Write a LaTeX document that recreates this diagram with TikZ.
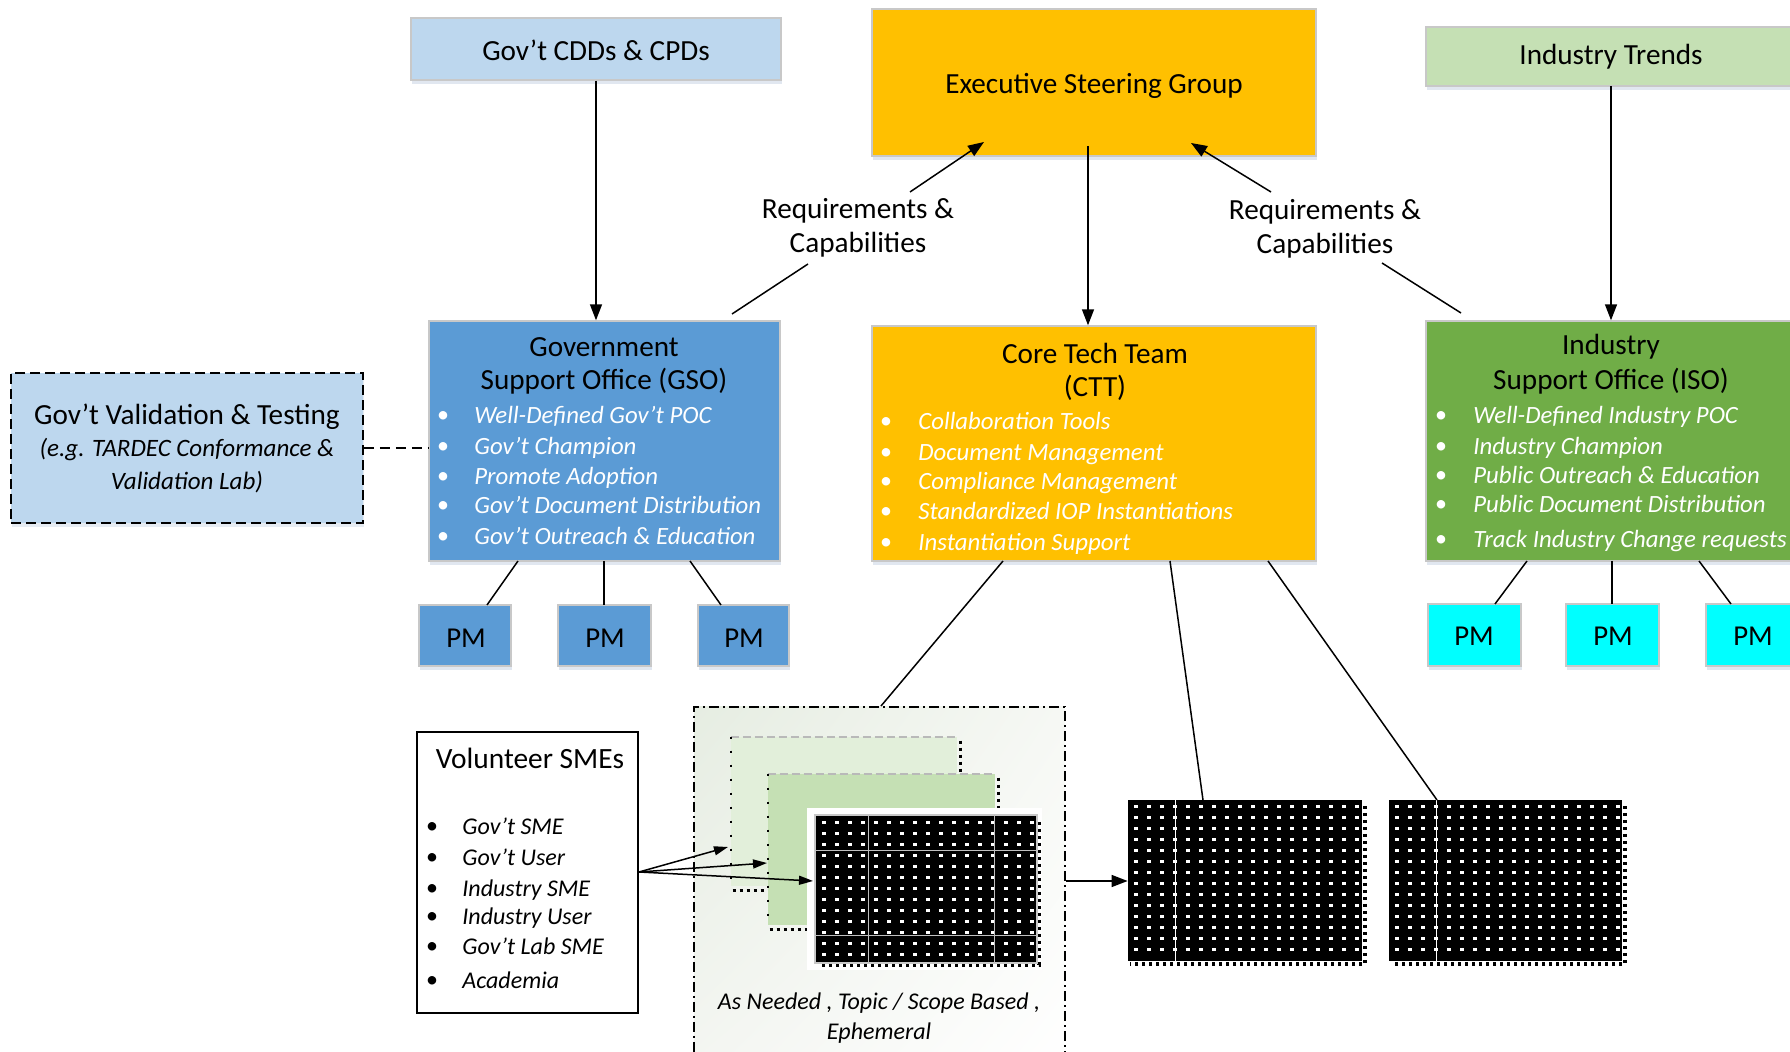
\documentclass[tikz,border=0pt]{standalone}
\usepackage{fontspec}
\setmainfont{Carlito}
\usetikzlibrary{arrows.meta,fit,calc,shadings,shadows}
\definecolor{lblue}{HTML}{BDD7EE}
\definecolor{mblue}{HTML}{5B9BD5}
\definecolor{gold}{HTML}{FFC000}
\definecolor{lgreen}{HTML}{C5E0B4}
\definecolor{mgreen}{HTML}{70AD47}
\definecolor{pgreen}{HTML}{E2EFDA}
\definecolor{cyanpm}{HTML}{00FFFF}
\definecolor{edgegray}{HTML}{C8C8C8}
\definecolor{shadowc}{RGB}{200,212,228}
\definecolor{shA}{RGB}{230,237,226}
\definecolor{shB}{RGB}{246,248,244}
\definecolor{shC}{RGB}{244,246,242}
\newcommand{\dith}[4]{%
  \fill[black] (#1,#2) rectangle (#3,#4);
  \pgfmathtruncatemacro{\nc}{(#3-#1-10)/13}%
  \pgfmathtruncatemacro{\nr}{(#4-#2-10)/11}%
  \foreach \i in {0,...,\nc}{\foreach \j in {0,...,\nr}{
     \fill[white] ({#1+6+13*\i},{#2+5+11*\j}) rectangle ++(3.5,3.5);}}
  \draw[black, line width=1.6pt, dash pattern=on 1.5pt off 2pt] ({#3+3},{#2+6}) -- ({#3+3},{#4+3}) -- ({#1+2},{#4+3});
}
\begin{document}
\begin{tikzpicture}[x=0.5pt,y=-0.5pt,
  box/.style={draw=edgegray, line width=0.7pt, inner sep=0pt,
     drop shadow={shadow xshift=0.6pt, shadow yshift=-2.2pt, fill=shadowc, opacity=0.55}},
  ttl/.style={font=\fontsize{14.6}{17}\selectfont, inner sep=0pt, anchor=center, align=center},
  itm/.style={font=\fontsize{12.4}{14}\selectfont\itshape, inner sep=0pt, anchor=west, text height=13pt, text depth=2.4pt},
  vitm/.style={font=\fontsize{12}{14}\selectfont\itshape, inner sep=0pt, anchor=west, text height=13pt, text depth=2.4pt},
  bul/.style={font=\fontsize{12}{14}\selectfont, inner sep=0pt, anchor=center},
  conn/.style={line width=0.75pt},
  arr/.style={line width=0.75pt, -{Triangle[length=8pt,width=6pt]}},
  sarr/.style={line width=0.75pt, -{Triangle[length=7pt,width=4.5pt]}},
]
\useasboundingbox (0,0) rectangle (1790,1052);

% ---------- top row
\node[box, fill=lblue, fit={(411,18) (781,80)}] (cdd) {};
\node[ttl] (cddT) at (596,50) {Gov’t CDDs \& CPDs};
\node[box, fill=gold, fit={(872,9) (1316,156)}] (esg) {};
\node[ttl] (esgT) at (1094,86) {Executive Steering Group};
\node[box, fill=lgreen, fit={(1426,27) (1800,86)}] (it) {};
\node[ttl] (itT) at (1611,57) {Industry Trends};

% ---------- middle row
\node[box, fill=mblue, fit={(429,321) (780,561)}] (gso) {};
\node[ttl] (gsoT1) at (604,347) {Government};
\node[ttl] (gsoT2) at (604,381) {Support Office (GSO)};
\foreach \t/\yy [count=\k] in {Well-Defined Gov’t POC/413, Gov’t Champion/444, Promote Adoption/474, Gov’t Document Distribution/503, Gov’t Outreach \& Education/534}{
  \node[bul, text=white] (gsoB\k) at (443,\yy+4) {•};
  \node[itm, text=white] (gsoI\k) at (474,\yy) {\t};
}

\node[draw=black, fill=lblue, line width=0.8pt, dash pattern=on 5pt off 2.5pt, inner sep=0pt,
      drop shadow={shadow xshift=0.6pt, shadow yshift=-2.2pt, fill=shadowc, opacity=0.45}, fit={(11,373) (363,523)}] (vt) {};
\node[ttl] (vtT) at (187,417) {Gov’t Validation \& Testing};
\node[font=\fontsize{12.5}{14}\selectfont\itshape, inner sep=0pt] (vtI1) at (187,450) {(e.g. TARDEC Conformance \&};
\node[font=\fontsize{12.5}{14}\selectfont\itshape, inner sep=0pt] (vtI2) at (187,482) {Validation Lab)};

\node[box, fill=gold, fit={(872,326) (1316,561)}] (ctt) {};
\node[ttl] (cttT1) at (1095,353) {Core Tech Team};
\node[ttl] (cttT2) at (1095,388) {(CTT)};
\foreach \t/\yy [count=\k] in {Collaboration Tools/419, Document Management/450, Compliance Management/479, Standardized IOP Instantiations/509, Instantiation Support/540}{
  \node[bul, text=white] (cttB\k) at (886,\yy+4) {•};
  \node[itm, text=white] (cttI\k) at (918,\yy) {\t};
}

\node[box, fill=mgreen, fit={(1426,321) (1800,561)}] (iso) {};
\node[ttl] (isoT1) at (1611,347) {Industry};
\node[ttl] (isoT2) at (1611,381) {Support Office (ISO)};
\foreach \t/\yy [count=\k] in {Well-Defined Industry POC/413, Industry Champion/444, Public Outreach \& Education/473, Public Document Distribution/502, Track Industry Change requests/537}{
  \node[bul, text=white] (isoB\k) at (1441,\yy+4) {•};
  \node[itm, text=white] (isoI\k) at (1473,\yy) {\t};
}

% ---------- PM boxes
\node[box, fill=mblue, fit={(419,605) (511,666)}] (pg1) {};
\node[box, fill=mblue, fit={(558,605) (651,666)}] (pg2) {};
\node[box, fill=mblue, fit={(698,605) (789,666)}] (pg3) {};
\node[box, fill=cyanpm, fit={(1428,604) (1521,666)}] (pi1) {};
\node[box, fill=cyanpm, fit={(1566,604) (1659,666)}] (pi2) {};
\node[box, fill=cyanpm, fit={(1706,604) (1800,666)}] (pi3) {};
\foreach \n/\xx/\yy in {pg1/466/638, pg2/605/638, pg3/744/638, pi1/1474/636, pi2/1613/636, pi3/1753/636}{
  \node[ttl, font=\fontsize{14.4}{17}\selectfont] (\n T) at (\xx,\yy) {PM};
}

% ---------- bottom: container
\node[draw=black, line width=0.9pt, dash pattern=on 5pt off 2pt on 1pt off 2pt, inner sep=0pt,
      upper left=shA, upper right=shB, lower left=shC, lower right=white,
      fit={(694,707) (1065,1070)}] (cont) {};
\node[font=\fontsize{12}{15}\selectfont\itshape, inner sep=0pt] (contT1) at (879,1003) {As Needed , Topic / Scope Based ,};
\node[font=\fontsize{12}{15}\selectfont\itshape, inner sep=0pt] (contT2) at (879,1033) {Ephemeral};

% stacked boxes
\node[fill=pgreen, inner sep=0pt, fit={(731,737) (957,886)}] (sb1) {};
\draw[edgegray!80!gray, line width=1pt, dash pattern=on 4pt off 2pt] (sb1.north west) -- (sb1.north east);
\draw[black, line width=1pt, dash pattern=on 1pt off 6pt] (sb1.north west) -- (sb1.south west);
\draw[black, line width=1.6pt, dash pattern=on 1.5pt off 2pt] ($(sb1.north east)+(3,4)$) -- ($(sb1.north east)+(3,50)$);
\draw[black, line width=1.6pt, dash pattern=on 1.5pt off 2pt] ($(sb1.south west)+(2,4)$) -- ($(sb1.south west)+(37,4)$);
\node[fill=lgreen, inner sep=0pt, fit={(768,774) (995,925)}] (sb2) {};
\draw[edgegray!80!gray, line width=1pt, dash pattern=on 4pt off 2pt] (sb2.north west) -- (sb2.north east);
\draw[black, line width=1pt, dash pattern=on 1pt off 6pt] (sb2.north west) -- (sb2.south west);
\draw[black, line width=1.6pt, dash pattern=on 1.5pt off 2pt] ($(sb2.north east)+(3,4)$) -- ($(sb2.north east)+(3,36)$);
\draw[black, line width=1.6pt, dash pattern=on 1.5pt off 2pt] ($(sb2.south west)+(2,4)$) -- ($(sb2.south west)+(39,4)$);
\node[fill=white, inner sep=0pt, fit={(807,808) (1042,970)}] (sb3) {};
\dith{816}{816}{1036}{962}
\draw[edgegray, line width=0.6pt] (815,815) rectangle (1037,963);
\draw[gray!50, line width=0.3pt] (815,850) -- (1037,850) (815,935) -- (1037,935) (868,815) -- (868,963) (994,815) -- (994,963);

% black boxes
\node[inner sep=0pt, fit={(1128,800) (1362,961)}] (bkA) {};
\dith{1128}{800}{1362}{961}
\draw[white, line width=0.4pt] (1175,800) -- (1175,961);
\node[inner sep=0pt, fit={(1389,800) (1622,961)}] (bkB) {};
\dith{1389}{800}{1622}{961}
\draw[white, line width=0.4pt] (1436,800) -- (1436,961);

% volunteer SMEs
\node[draw=black, line width=0.8pt, fill=white, inner sep=0pt, fit={(417,732) (638,1013)}] (vol) {};
\node[ttl, font=\fontsize{14.7}{17}\selectfont] (volT) at (530,758) {Volunteer SMEs};
\foreach \t/\yy [count=\k] in {Gov’t SME/824, Gov’t User/855, Industry SME/886, Industry User/914, Gov’t Lab SME/944, Academia/978}{
  \node[bul] (volB\k) at (432,\yy+4) {•};
  \node[vitm] (volI\k) at (462,\yy) {\t};
}

% ---------- connectors
\coordinate (esgOut) at (1088,146);
\coordinate (itOut) at (1611,86);
\coordinate (contY) at (0,881);
\draw[arr] (cdd.south) -- (cdd.south |- gso.north);
\draw[arr] (esgOut) -- (esgOut |- ctt.north);
\draw[arr] (itOut) -- (itOut |- iso.north);

\node[ttl] (reqL) at (858,228) {Requirements \&\\Capabilities};
\node[ttl] (reqR) at (1325,229) {Requirements \&\\Capabilities};
\coordinate (rl1) at (732,314); \coordinate (rl2) at (808,264);
\coordinate (rl3) at (910,192); \coordinate (rl4) at (984,142);
\coordinate (rr1) at (1461,313); \coordinate (rr2) at (1382,263);
\coordinate (rr3) at (1271,192); \coordinate (rr4) at (1191,143);
\draw[conn] (rl1) -- (rl2);
\draw[arr] (rl3) -- (rl4);
\draw[conn] (rr1) -- (rr2);
\draw[arr] (rr3) -- (rr4);

\draw[line width=0.8pt, dash pattern=on 5pt off 3pt] (vt.east) -- (vt.east -| gso.west);

\draw[conn] (518,561) -- (487,605);
\draw[conn] (604,561) -- (604,605);
\draw[conn] (690,561) -- (721,605);
\draw[conn] (1527,561) -- (1495,604);
\draw[conn] (1612,561) -- (1612,604);
\draw[conn] (1699,561) -- (1731,604);

\draw[conn] (1003,561) -- (881,706);
\draw[conn] (1170,561) -- (1203,800);
\draw[conn] (1268,561) -- (1437,800);

\draw[arr] (cont.east |- contY) -- (bkA.west |- contY);

\coordinate (volOut) at (639,872);
\draw[sarr] (volOut) -- (728,847);
\draw[sarr] (volOut) -- (767,863);
\draw[sarr] (volOut) -- (813,881);
\end{tikzpicture}
\end{document}
